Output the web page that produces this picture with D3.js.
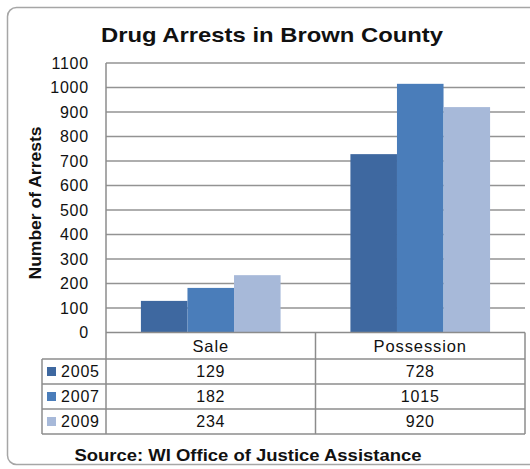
<!DOCTYPE html>
<html>
<head>
<meta charset="utf-8">
<script src="https://cdn.jsdelivr.net/npm/d3@7"></script>
<style>
  html, body { margin: 0; padding: 0; background: #fff; overflow: hidden; }
  svg { display: block; font-family: "Liberation Sans", Arial, sans-serif; }
</style>
</head>
<body>
<div id="chart"></div>
<script>
// chart data
var categories = ["Sale", "Possession"];
var years = ["2005", "2007", "2009"];
var arrests2005 = [129, 728];
var arrests2007 = [182, 1015];
var arrests2009 = [234, 920];
var yTicks = [0, 100, 200, 300, 400, 500, 600, 700, 800, 900, 1000, 1100];

var colors = ["#3e68a0", "#4a7dba", "#a7b9d9"];
var series = [arrests2005, arrests2007, arrests2009].map(function(v, i) {
  return {year: years[i], values: v, color: colors[i]};
});

var width = 530, height = 469;
var plotLeft = 106, plotRight = 525, plotTop = 63, base = 332.5;
var rowH = 25, headH = 26.5, tableLeft = 42;

var svg = d3.select("#chart").append("svg")
    .attr("width", width)
    .attr("height", height);

// outer frame (right side runs off the picture)
svg.append("path")
    .attr("d", "M600,7.5H16.5A9,9 0 0 0 7.5,16.5V455.5A9,9 0 0 0 16.5,464.5H600")
    .attr("fill", "none")
    .attr("stroke", "#a6a6a6")
    .attr("stroke-width", 1.5);

var x = d3.scaleBand().domain(categories).range([plotLeft, plotRight]);
var xIn = d3.scaleBand().domain(years).range([0, x.bandwidth()]).paddingOuter(0.75);
var y = d3.scaleLinear().domain([0, 1100]).range([base, plotTop]);

// gridlines
svg.append("g").selectAll("line")
  .data(yTicks.filter(function(d) { return d > 0; }))
  .enter().append("line")
    .attr("x1", plotLeft).attr("x2", plotRight)
    .attr("y1", function(d) { return y(d); })
    .attr("y2", function(d) { return y(d); })
    .attr("stroke", "#939393")
    .attr("stroke-width", 1.5);

// y tick labels
svg.append("g").selectAll("text")
  .data(yTicks)
  .enter().append("text")
    .attr("x", 89)
    .attr("y", function(d) { return y(d); })
    .attr("dy", "0.35em")
    .attr("text-anchor", "end")
    .attr("font-size", 16)
    .attr("letter-spacing", 0.8)
    .attr("fill", "#111")
    .text(function(d) { return d; });

// bars
var groups = svg.append("g").selectAll("g")
  .data(series)
  .enter().append("g")
    .attr("fill", function(d) { return d.color; });

groups.selectAll("rect")
  .data(function(s) { return s.values.map(function(v, i) { return {cat: categories[i], year: s.year, value: v}; }); })
  .enter().append("rect")
    .attr("x", function(d) { return x(d.cat) + xIn(d.year); })
    .attr("width", xIn.bandwidth())
    .attr("y", function(d) { return y(d.value); })
    .attr("height", function(d) { return base - y(d.value); });

// data table
var lineColor = "#8c8c8c";
var tbl = svg.append("g").attr("stroke", lineColor).attr("stroke-width", 1.5);
var tableBottom = base + headH + rowH * years.length;

tbl.append("line").attr("x1", plotLeft).attr("x2", plotLeft).attr("y1", plotTop).attr("y2", tableBottom);
tbl.append("line").attr("x1", plotLeft).attr("x2", plotRight).attr("y1", base).attr("y2", base);
tbl.append("line").attr("x1", plotRight).attr("x2", plotRight).attr("y1", base).attr("y2", tableBottom);
tbl.append("line").attr("x1", tableLeft).attr("x2", tableLeft).attr("y1", base + headH).attr("y2", tableBottom);
categories.slice(1).forEach(function(c) {
  tbl.append("line").attr("x1", x(c)).attr("x2", x(c)).attr("y1", base).attr("y2", tableBottom);
});
d3.range(years.length + 1).forEach(function(i) {
  var yy = base + headH + rowH * i;
  tbl.append("line").attr("x1", tableLeft).attr("x2", plotRight).attr("y1", yy).attr("y2", yy);
});

// header row
svg.append("g").selectAll("text")
  .data(categories)
  .enter().append("text")
    .attr("x", function(d) { return x(d) + x.bandwidth() / 2; })
    .attr("y", base + headH / 2)
    .attr("dy", "0.36em")
    .attr("text-anchor", "middle")
    .attr("font-size", 16.5)
    .attr("letter-spacing", 0.9)
    .attr("fill", "#111")
    .text(function(d) { return d; });

// series rows
var rows = svg.append("g").selectAll("g")
  .data(series)
  .enter().append("g")
    .attr("transform", function(d, i) { return "translate(0," + (base + headH + rowH * i + rowH / 2) + ")"; });

rows.append("rect")
    .attr("x", 47).attr("y", -4.5)
    .attr("width", 9).attr("height", 9)
    .attr("fill", function(d) { return d.color; });

rows.append("text")
    .attr("x", 61)
    .attr("dy", "0.36em")
    .attr("font-size", 16)
    .attr("letter-spacing", 0.8)
    .attr("fill", "#111")
    .text(function(d) { return d.year; });

rows.selectAll("text.val")
  .data(function(s) { return s.values.map(function(v, i) { return {cat: categories[i], value: v}; }); })
  .enter().append("text")
    .attr("class", "val")
    .attr("x", function(d) { return x(d.cat) + x.bandwidth() / 2; })
    .attr("dy", "0.36em")
    .attr("text-anchor", "middle")
    .attr("font-size", 16)
    .attr("letter-spacing", 0.8)
    .attr("fill", "#111")
    .text(function(d) { return d.value; });

// title
svg.append("text")
    .attr("x", 272).attr("y", 42)
    .attr("text-anchor", "middle")
    .attr("font-size", 21)
    .attr("font-weight", "bold")
    .attr("textLength", 342)
    .attr("lengthAdjust", "spacingAndGlyphs")
    .attr("fill", "#111")
    .text("Drug Arrests in Brown County");

// y axis title
svg.append("text")
    .attr("transform", "translate(41,203) rotate(-90)")
    .attr("text-anchor", "middle")
    .attr("font-size", 17)
    .attr("font-weight", "bold")
    .attr("textLength", 153)
    .attr("lengthAdjust", "spacingAndGlyphs")
    .attr("fill", "#111")
    .text("Number of Arrests");

// source note
svg.append("text")
    .attr("x", 248).attr("y", 461)
    .attr("text-anchor", "middle")
    .attr("font-size", 17)
    .attr("font-weight", "bold")
    .attr("textLength", 347)
    .attr("lengthAdjust", "spacingAndGlyphs")
    .attr("fill", "#111")
    .text("Source: WI Office of Justice Assistance");
</script>
</body>
</html>
